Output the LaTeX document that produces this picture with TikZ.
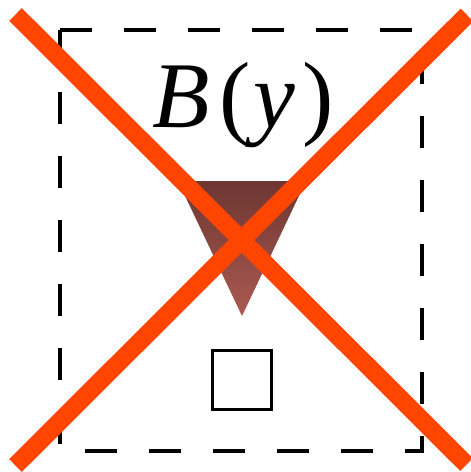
\documentclass[tikz,border=0pt]{standalone}
\usepackage{fontspec}
\setmainfont{Liberation Serif}
\begin{document}
\begin{tikzpicture}[x=1pt,y=-1pt,
  framebox/.style={draw=black,line width=4.5pt,dash pattern=on 32pt off 32pt},
  cross/.style={draw={rgb,255:red,255;green,69;blue,0},line width=18pt,line cap=butt},
  smallsq/.style={draw=black,line width=3.5pt,minimum size=59pt,inner sep=0pt},
  label/.style={font=\fontsize{94}{100}\selectfont,inner sep=0pt,anchor=base}]
\useasboundingbox (0,0) rectangle (471,472);
\coordinate (f1) at (60,30);
\coordinate (f2) at (422,30);
\coordinate (f3) at (422,451);
\coordinate (f4) at (60,451);
\draw[framebox] (f1) -- (f2) -- (f3) -- (f4) -- cycle;
\node[label] (lab) at (243,127) {\textit{B}\kern9pt(\kern3pt\textit{y}\kern7pt)};
\coordinate (t1) at (178,181);
\coordinate (t2) at (306,181);
\coordinate (t3) at (242,316);
\shade[top color={rgb,255:red,110;green,54;blue,49},bottom color={rgb,255:red,170;green,90;blue,82}] (t1) -- (t2) -- (t3) -- cycle;
\node[smallsq] (sq) at (242,380) {};
\coordinate (a1) at (15.5,14.5);
\coordinate (a2) at (466.5,464.5);
\coordinate (b1) at (15.5,465.5);
\coordinate (b2) at (467,15);
\draw[cross] (a1) -- (a2);
\draw[cross] (b1) -- (b2);
\end{tikzpicture}
\end{document}
